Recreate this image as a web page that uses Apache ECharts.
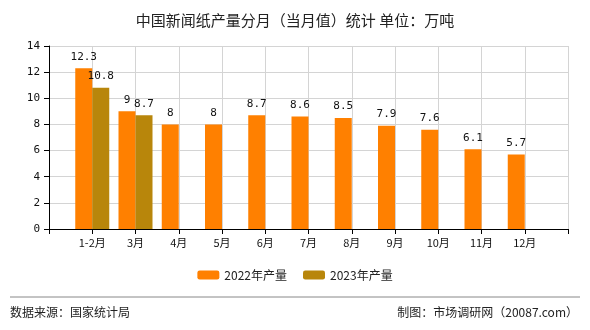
<!DOCTYPE html>
<html>
<head>
<meta charset="utf-8">
<script src="https://cdn.jsdelivr.net/npm/echarts@6/dist/echarts.min.js"></script>
<style>
html,body{margin:0;padding:0;background:#fff;}
#chart{width:590px;height:330px;}
</style>
</head>
<body>
<div id="chart"></div>
<script>
// Month labels; empty slots pad both ends of the axis
const months = ['', '1-2月', '3月', '4月', '5月', '6月', '7月', '8月', '9月', '10月', '11月', '12月', ''];
const output2022 = [null, 12.3, 9, 8, 8, 8.7, 8.6, 8.5, 7.9, 7.6, 6.1, 5.7, null];
const output2023 = [null, 10.8, 8.7, null, null, null, null, null, null, null, null, null, null];
const yTicks = { min: 0, max: 14, interval: 2 };

const font = '"Noto Sans CJK SC", "DejaVu Sans", sans-serif';
const chart = echarts.init(document.getElementById('chart'));

const labelStyle = {
  show: true,
  position: 'top',
  color: '#111',
  fontSize: 11,
  fontFamily: '"DejaVu Sans Mono", monospace',
  distance: 6
};

chart.setOption({
  animation: false,
  backgroundColor: '#fff',
  title: {
    text: '中国新闻纸产量分月（当月值）统计 单位：万吨',
    left: 'center',
    top: 8,
    textStyle: { fontSize: 15, fontWeight: 'normal', color: '#222', fontFamily: font }
  },
  legend: {
    bottom: 44,
    left: 'center',
    itemWidth: 22,
    itemHeight: 9,
    itemGap: 16,
    textStyle: { fontSize: 12, color: '#222', fontFamily: font },
    data: ['2022年产量', '2023年产量']
  },
  grid: { left: 49, right: 22, top: 46, bottom: 101 },
  xAxis: {
    type: 'category',
    data: months,
    boundaryGap: false,
    axisLine: { lineStyle: { color: '#000', width: 1 } },
    axisTick: { show: true, length: 5, lineStyle: { color: '#000' } },
    axisLabel: { color: '#111', fontSize: 11, fontFamily: font, margin: 8, interval: 0 },
    splitLine: { show: true, lineStyle: { color: '#d4d4d4' } }
  },
  yAxis: {
    type: 'value',
    min: yTicks.min,
    max: yTicks.max,
    interval: yTicks.interval,
    axisLine: { show: true, lineStyle: { color: '#000' } },
    axisTick: { show: true, length: 5, lineStyle: { color: '#000' } },
    axisLabel: { color: '#111', fontSize: 11, fontFamily: '"DejaVu Sans Mono", monospace', margin: 9 },
    splitLine: { show: true, lineStyle: { color: '#d4d4d4' } }
  },
  series: [
    {
      name: '2022年产量',
      type: 'bar',
      data: output2022,
      barWidth: 17,
      barGap: '0%',
      itemStyle: { color: '#FF8000' },
      label: labelStyle
    },
    {
      name: '2023年产量',
      type: 'bar',
      data: output2023,
      barWidth: 17,
      barGap: '0%',
      itemStyle: { color: '#B8860B' },
      label: labelStyle
    }
  ],
  graphic: [
    { type: 'line', shape: { x1: 10, y1: 297, x2: 580, y2: 297 }, style: { stroke: '#888', lineWidth: 1 } },
    { type: 'text', left: 10, top: 306, style: { text: '数据来源：国家统计局', fontSize: 12, fill: '#222', fontFamily: font } },
    { type: 'text', right: 12, top: 306, style: { text: '制图：市场调研网（20087.com）', fontSize: 12, fill: '#222', fontFamily: font } }
  ]
});
</script>
</body>
</html>
